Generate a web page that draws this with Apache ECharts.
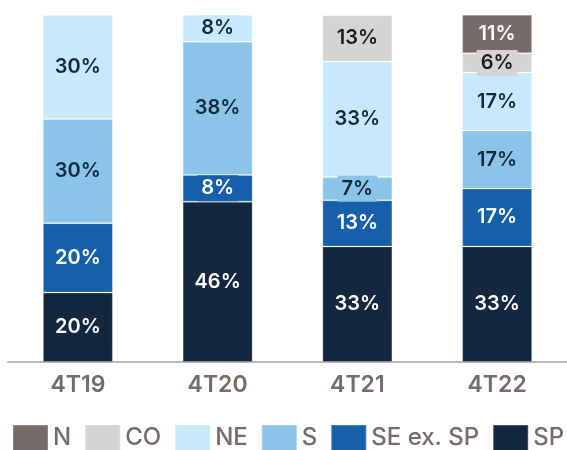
<!DOCTYPE html>
<html>
<head>
<meta charset="utf-8">
<script src="https://cdn.jsdelivr.net/npm/echarts@6/dist/echarts.min.js"></script>
<style>html,body{margin:0;padding:0;background:#fff}#c{width:567px;height:450px}</style>
</head>
<body>
<div id="c"></div>
<script>
const categories = ['4T19', '4T20', '4T21', '4T22'];
const seriesNames = ['SP', 'SE ex. SP', 'S', 'NE', 'CO', 'N'];
const SP = [20, 46.2, 33.3, 33.3];
const SE = [20, 7.7, 13.3, 16.7];
const S = [30, 38.4, 6.7, 16.7];
const NE = [30, 7.7, 33.3, 16.7];
const CO = [null, null, 13.3, 5.6];
const N = [null, null, null, 11.1];
const legendOrder = ['N', 'CO', 'NE', 'S', 'SE ex. SP', 'SP'];

const values = [SP, SE, S, NE, CO, N];
const colors = ['#13273f', '#1660ab', '#8ac4e8', '#c6eafc', '#d4d4d4', '#766b69'];
const labelColors = ['#ffffff', '#ffffff', '#13273f', '#13273f', '#1a1a1a', '#ffffff'];
const FONT = 'Inter';

const chart = echarts.init(document.getElementById('c'), null, {renderer: 'canvas'});
chart.setOption({
  animation: false,
  grid: {left: 8, right: -4, top: 15, bottom: 88},
  xAxis: {
    type: 'category', data: categories,
    axisLine: {lineStyle: {color: '#bdb6b4', width: 2}},
    axisTick: {show: false},
    axisLabel: {color: '#766b69', fontSize: 23, fontFamily: FONT, fontWeight: 600, margin: 12}
  },
  yAxis: {type: 'value', min: 0, max: 100, show: false},
  legend: {
    data: legendOrder, left: 12, top: 424, width: 620, padding: 0,
    itemWidth: 35, itemHeight: 26, itemGap: 13,
    icon: 'rect',
    textStyle: {color: '#766b69', fontSize: 24, fontFamily: FONT, fontWeight: 500}
  },
  series: seriesNames.map((name, i) => ({
    name: name, type: 'bar', stack: 'total', barWidth: 70,
    data: values[i],
    itemStyle: {color: colors[i], borderColor: 'rgba(255,255,255,0.2)', borderWidth: 1},
    label: {
      show: true, position: 'inside',
      formatter: p => Math.round(p.value) + '%',
      color: labelColors[i], fontSize: 20, fontFamily: FONT, fontWeight: 600,
      backgroundColor: colors[i], padding: [3, 4]
    }
  }))
});
</script>
</body>
</html>
